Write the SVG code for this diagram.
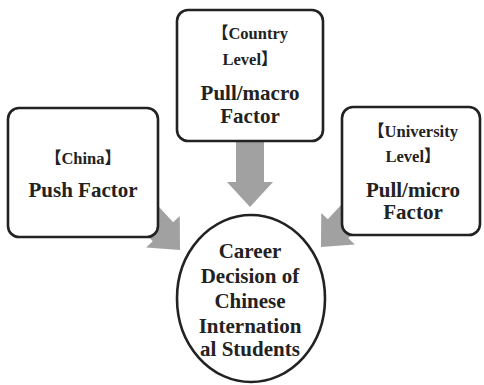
<svg xmlns="http://www.w3.org/2000/svg" width="484" height="385" viewBox="0 0 484 385">
<defs>
<style>
.box{fill:#fff;stroke:#222;stroke-width:2.6}
.arrow{fill:#a1a1a1;stroke:none}
text{font-weight:bold;fill:#222;text-anchor:middle}
.sm{font-size:16.5px}
.lg{font-size:21px}
</style>
<polygon id="arr" points="-14,-70 14,-70 14,-25 23,-25 0,0 -23,-25 -14,-25"/>
</defs>
<rect width="484" height="385" fill="#fff"/>
<g id="connectors">
<use href="#arr" class="arrow" transform="translate(250,207)"/>
<use href="#arr" class="arrow" transform="translate(180,250) rotate(-43)"/>
<use href="#arr" class="arrow" transform="translate(321,247) rotate(43)"/>
</g>
<g font-family="Liberation Serif, Noto Sans CJK SC, serif">
<g id="country">
<rect class="box" x="177" y="10" width="146" height="131" rx="11"/>
<text class="sm" x="250" y="39">【Country</text>
<text class="sm" x="250" y="65">Level】</text>
<text class="lg" x="250" y="100">Pull/macro</text>
<text class="lg" x="250" y="123">Factor</text>
</g>
<g id="china">
<rect class="box" x="8" y="108" width="150" height="129" rx="11"/>
<text class="sm" x="83" y="164">【China】</text>
<text class="lg" x="83" y="197">Push Factor</text>
</g>
<g id="university">
<rect class="box" x="342" y="107" width="138" height="128" rx="11"/>
<text class="sm" x="413" y="137">【University</text>
<text class="sm" x="413" y="162">Level】</text>
<text class="lg" x="413" y="197">Pull/micro</text>
<text class="lg" x="413" y="219">Factor</text>
</g>
<g id="career">
<ellipse class="box" cx="251" cy="298.5" rx="74" ry="83.5"/>
<text class="lg" x="250" y="258">Career</text>
<text class="lg" x="250" y="283">Decision of</text>
<text class="lg" x="250" y="308">Chinese</text>
<text class="lg" x="250" y="333">Internation</text>
<text class="lg" x="250" y="356">al Students</text>
</g>
</g>
</svg>
